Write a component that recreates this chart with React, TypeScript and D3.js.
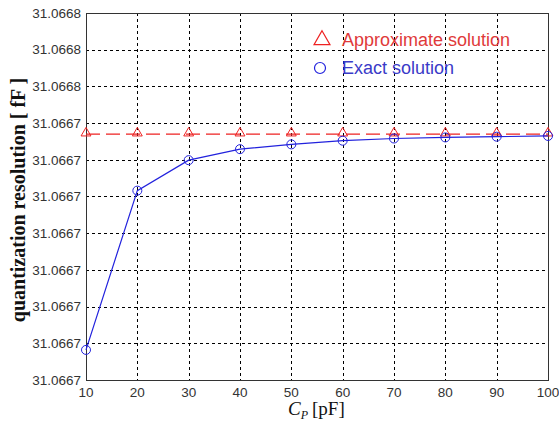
import React, { useEffect, useRef } from 'react';
import * as d3 from 'd3';

// C_P in pF
const capacitance = [10, 20, 30, 40, 50, 60, 70, 80, 90, 100];
// quantization resolution [fF]
const exactSolution = [
  31.0666832, 31.0667266, 31.0667349, 31.0667379, 31.0667392,
  31.0667402, 31.0667408, 31.0667411, 31.0667413, 31.0667415,
];
const approximateSolution = [
  31.066742, 31.066742, 31.066742, 31.066742, 31.066742,
  31.066742, 31.066742, 31.066742, 31.066742, 31.066742,
];
const xTicks = [10, 20, 30, 40, 50, 60, 70, 80, 90, 100];
const yTicks = [
  31.066675, 31.066685, 31.066695, 31.066705, 31.066715, 31.066725,
  31.066735, 31.066745, 31.066755, 31.066765, 31.066775,
];
const yTickLabels = [
  '31.0667', '31.0667', '31.0667', '31.0667', '31.0667', '31.0667',
  '31.0667', '31.0667', '31.0668', '31.0668', '31.0668',
];

const W = 559;
const H = 432;
const margin = { left: 86, right: 11, top: 13, bottom: 52 };
const RED = '#ee2222';
const BLUE = '#2222dd';

const App = () => {
  const ref = useRef<SVGSVGElement | null>(null);

  useEffect(() => {
    const el = ref.current;
    if (!el) return;
    const svg = d3.select(el);
    svg.selectAll('*').remove();

    const x = d3
      .scaleLinear()
      .domain([10, 100])
      .range([margin.left, W - margin.right]);
    const y = d3
      .scaleLinear()
      .domain([yTicks[0], yTicks[yTicks.length - 1]])
      .range([H - margin.bottom, margin.top]);

    svg.append('rect').attr('width', W).attr('height', H).attr('fill', '#fff');

    // grid
    const grid = svg.append('g').attr('stroke', '#000').attr('stroke-width', 1).attr('stroke-dasharray', '3,3');
    grid
      .selectAll('line.gx')
      .data(xTicks.slice(1, -1))
      .enter()
      .append('line')
      .attr('x1', (d) => Math.round(x(d)) + 0.5)
      .attr('x2', (d) => Math.round(x(d)) + 0.5)
      .attr('y1', margin.top)
      .attr('y2', H - margin.bottom);
    grid
      .selectAll('line.gy')
      .data(yTicks.slice(1, -1))
      .enter()
      .append('line')
      .attr('x1', margin.left)
      .attr('x2', W - margin.right)
      .attr('y1', (d) => Math.round(y(d)) + 0.5)
      .attr('y2', (d) => Math.round(y(d)) + 0.5);

    // box
    svg
      .append('rect')
      .attr('x', margin.left + 0.5)
      .attr('y', margin.top + 0.5)
      .attr('width', W - margin.left - margin.right)
      .attr('height', H - margin.top - margin.bottom)
      .attr('fill', 'none')
      .attr('stroke', '#333')
      .attr('stroke-width', 1);

    // tick labels
    svg
      .selectAll('text.xt')
      .data(xTicks)
      .enter()
      .append('text')
      .attr('x', (d) => x(d))
      .attr('y', H - margin.bottom + 17)
      .attr('text-anchor', 'middle')
      .style('font-family', 'Liberation Sans, Arial, sans-serif')
      .style('font-size', '13.5px')
      .style('fill', '#333')
      .text((d) => d);
    svg
      .selectAll('text.yt')
      .data(yTicks)
      .enter()
      .append('text')
      .attr('x', margin.left - 5)
      .attr('y', (d) => y(d))
      .attr('dy', '0.35em')
      .attr('text-anchor', 'end')
      .style('font-family', 'Liberation Sans, Arial, sans-serif')
      .style('font-size', '13.5px')
      .style('fill', '#333')
      .text((d, i) => yTickLabels[i]);

    const triangle = d3.symbol().type(d3.symbolTriangle).size(42);

    // approximate solution
    const approx = capacitance.map((c, i) => [c, approximateSolution[i]] as [number, number]);
    const line = d3
      .line<[number, number]>()
      .x((d) => x(d[0]))
      .y((d) => y(d[1]));
    svg
      .append('path')
      .attr('d', line(approx))
      .attr('fill', 'none')
      .attr('stroke', RED)
      .attr('stroke-width', 1.2)
      .attr('stroke-dasharray', '14,6');
    svg
      .selectAll('path.tri')
      .data(approx)
      .enter()
      .append('path')
      .attr('d', triangle)
      .attr('transform', (d) => `translate(${x(d[0])},${y(d[1]) - 1})`)
      .attr('fill', 'none')
      .attr('stroke', RED)
      .attr('stroke-width', 1);

    // exact solution
    const exact = capacitance.map((c, i) => [c, exactSolution[i]] as [number, number]);
    svg
      .append('path')
      .attr('d', line(exact))
      .attr('fill', 'none')
      .attr('stroke', BLUE)
      .attr('stroke-width', 1.2);
    svg
      .selectAll('circle.pt')
      .data(exact)
      .enter()
      .append('circle')
      .attr('cx', (d) => x(d[0]))
      .attr('cy', (d) => y(d[1]))
      .attr('r', 4.5)
      .attr('fill', 'none')
      .attr('stroke', BLUE)
      .attr('stroke-width', 1);

    // legend
    const legend = svg.append('g');
    legend
      .append('path')
      .attr('d', d3.symbol().type(d3.symbolTriangle).size(110)())
      .attr('transform', 'translate(322,40)')
      .attr('fill', 'none')
      .attr('stroke', RED)
      .attr('stroke-width', 1.2);
    legend
      .append('text')
      .attr('x', 342)
      .attr('y', 46)
      .style('font-family', 'Liberation Sans, Arial, sans-serif')
      .style('font-size', '18px')
      .style('fill', '#e03a3a')
      .text('Approximate solution');
    legend
      .append('circle')
      .attr('cx', 320)
      .attr('cy', 68)
      .attr('r', 5.5)
      .attr('fill', 'none')
      .attr('stroke', BLUE)
      .attr('stroke-width', 1.2);
    legend
      .append('text')
      .attr('x', 342)
      .attr('y', 73.5)
      .style('font-family', 'Liberation Sans, Arial, sans-serif')
      .style('font-size', '18px')
      .style('fill', '#3a3ac8')
      .text('Exact solution');

    // axis titles
    const xl = svg
      .append('text')
      .attr('x', 288)
      .attr('y', 415)
      .style('font-family', 'Liberation Serif, Times New Roman, serif')
      .style('font-size', '19px')
      .style('fill', '#111');
    xl.append('tspan').style('font-style', 'italic').text('C');
    xl.append('tspan')
      .attr('dy', 4)
      .style('font-style', 'italic')
      .style('font-size', '12px')
      .text('P');
    xl.append('tspan').attr('dy', -4).attr('dx', 4).text('[pF]');

    svg
      .append('text')
      .attr('transform', 'translate(25,200) rotate(-90)')
      .attr('text-anchor', 'middle')
      .style('font-family', 'Liberation Serif, Times New Roman, serif')
      .style('font-size', '20px')
      .style('font-weight', 'bold')
      .style('fill', '#111')
      .text('quantization resolution [ fF ]');
  }, []);

  return (
    <svg
      ref={ref}
      width={W}
      height={H}
      style={{ position: 'absolute', left: 0, top: 0, display: 'block' }}
    />
  );
};

export default App;
